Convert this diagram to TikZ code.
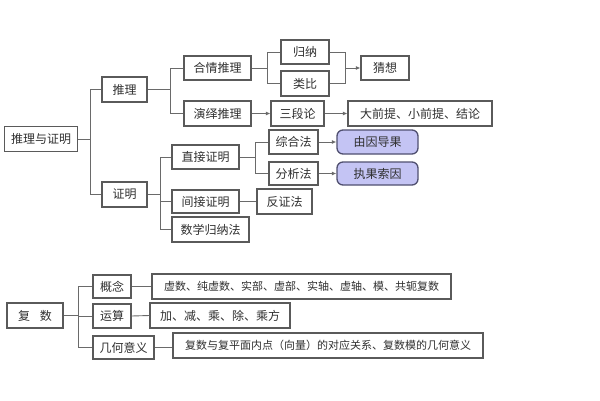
\documentclass[tikz,border=0pt]{standalone}
\usepackage{fontspec}
\newfontfamily\cjk{Noto Sans CJK SC}
\usetikzlibrary{arrows.meta}
\definecolor{bordc}{HTML}{5A5A5A}
\definecolor{linec}{HTML}{6A6A6A}
\definecolor{txtc}{HTML}{303030}
\definecolor{lav}{HTML}{C4C4F4}
\definecolor{lavb}{HTML}{505070}
\tikzset{
  box/.style={draw=bordc, line width=1.2pt, inner sep=0pt, text=txtc,
    font=\cjk\fontsize{12}{12}\selectfont, anchor=center, fill=white},
  sbox/.style={box, font=\cjk\fontsize{11}{11}\selectfont},
  rbox/.style={box, draw=lavb, fill=lav, rounded corners=6pt, line width=1.3pt},
  conn/.style={draw=linec, line width=0.9pt},
  arr/.style={conn, -{Latex[length=4.5pt,width=4pt]}}
}
\begin{document}
\begin{tikzpicture}[x=1pt,y=-1pt]
\useasboundingbox[fill=white] (0,0) rectangle (600,400);
% nodes top
\node[box, minimum width=73, minimum height=25] (root) at (41,139) {推理与证明};
\node[box, minimum width=45, minimum height=25] (tl) at (124.5,89.5) {推理};
\node[box, minimum width=45, minimum height=25] (zm) at (124.5,194.5) {证明};
\node[box, minimum width=67, minimum height=24] (hq) at (217.5,68) {合情推理};
\node[box, minimum width=67, minimum height=25] (yy) at (217.5,113.5) {演绎推理};
\node[box, minimum width=67, minimum height=24] (zj) at (205.5,157) {直接证明};
\node[box, minimum width=67, minimum height=23] (jj) at (205.5,201.5) {间接证明};
\node[box, minimum width=77, minimum height=25] (sx) at (210.5,229.5) {数学归纳法};
\node[box, minimum width=48, minimum height=24] (gn) at (305,52) {归纳};
\node[box, minimum width=48, minimum height=25] (lb) at (305,83.5) {类比};
\node[box, minimum width=48, minimum height=24] (cx) at (385,68) {猜想};
\node[box, minimum width=53, minimum height=25] (sd) at (297.5,113.5) {三段论};
\node[box, minimum width=144, minimum height=25] (dq) at (420,113.5) {大前提、小前提、结论};
\node[box, minimum width=49, minimum height=24] (zh) at (293.5,142) {综合法};
\node[box, minimum width=49, minimum height=23] (fx) at (293.5,173.5) {分析法};
\node[rbox, minimum width=81, minimum height=24] (yg) at (377.5,142) {由因导果};
\node[rbox, minimum width=81, minimum height=23] (zg) at (377.5,173.5) {执果索因};
\node[box, minimum width=55, minimum height=25] (fz) at (284.5,201.5) {反证法};
% nodes bottom
\node[box, minimum width=56, minimum height=25] (fs) at (35,315.5) {复\hspace{0.8em}数};
\node[box, minimum width=38, minimum height=23] (gl) at (112,286.5) {概念};
\node[box, minimum width=38, minimum height=24] (ys) at (112,316) {运算};
\node[box, minimum width=61, minimum height=23] (jh) at (123.5,347.5) {几何意义};
\node[sbox, minimum width=299, minimum height=25] (xs) at (301.5,286.5) {虚数、纯虚数、实部、虚部、实轴、虚轴、模、共轭复数};
\node[box, minimum width=140, minimum height=25] (jf) at (220,315.5) {加、减、乘、除、乘方};
\node[sbox, minimum width=310, minimum height=25] (fp) at (328,345.5) {复数与复平面内点（向量）的对应关系、复数模的几何意义};
% connectors top
\draw[conn] (root.east) -- ++(12,0) |- (tl.west);
\draw[conn] (root.east) -- ++(12,0) |- (zm.west);
\draw[conn] (tl.east) -- ++(23,0) |- (hq.west);
\draw[conn] (tl.east) -- ++(23,0) |- (yy.west);
\draw[conn] (hq.east) -- ++(16,0) |- (gn.west);
\draw[conn] (hq.east) -- ++(16,0) |- (lb.west);
\coordinate (m1) at (345,68);
\draw[conn] (gn.east) -| (m1);
\draw[conn] (lb.east) -| (m1);
\draw[arr] (m1) -- (cx.west);
\draw[arr] (yy.east) -- (sd.west);
\draw[arr] (sd.east) -- (dq.west);
\draw[conn] (zm.east) -- ++(13,0) |- (zj.west);
\draw[conn] (zm.east) -- ++(13,0) |- (jj.west);
\draw[conn] (zm.east) -- ++(13,0) |- (sx.west);
\draw[conn] (zj.east) -- ++(16,0) |- (zh.west);
\draw[conn] (zj.east) -- ++(16,0) |- (fx.west);
\draw[arr] (zh.east) -- (yg.west);
\draw[arr] (fx.east) -- (zg.west);
\draw[conn] (jj.east) -- (fz.west);
% connectors bottom
\draw[conn] (fs.east) -- ++(15,0) |- (gl.west);
\draw[conn] (fs.east) -- ++(15,0) |- (ys.west);
\draw[conn] (fs.east) -- ++(15,0) |- (jh.west);
\draw[conn] (gl.east) -- (xs.west);
\draw[conn] (ys.east) -- (jf.west);
\draw[conn] (jh.east) -- (jh.east -| fp.west);
\end{tikzpicture}
\end{document}
